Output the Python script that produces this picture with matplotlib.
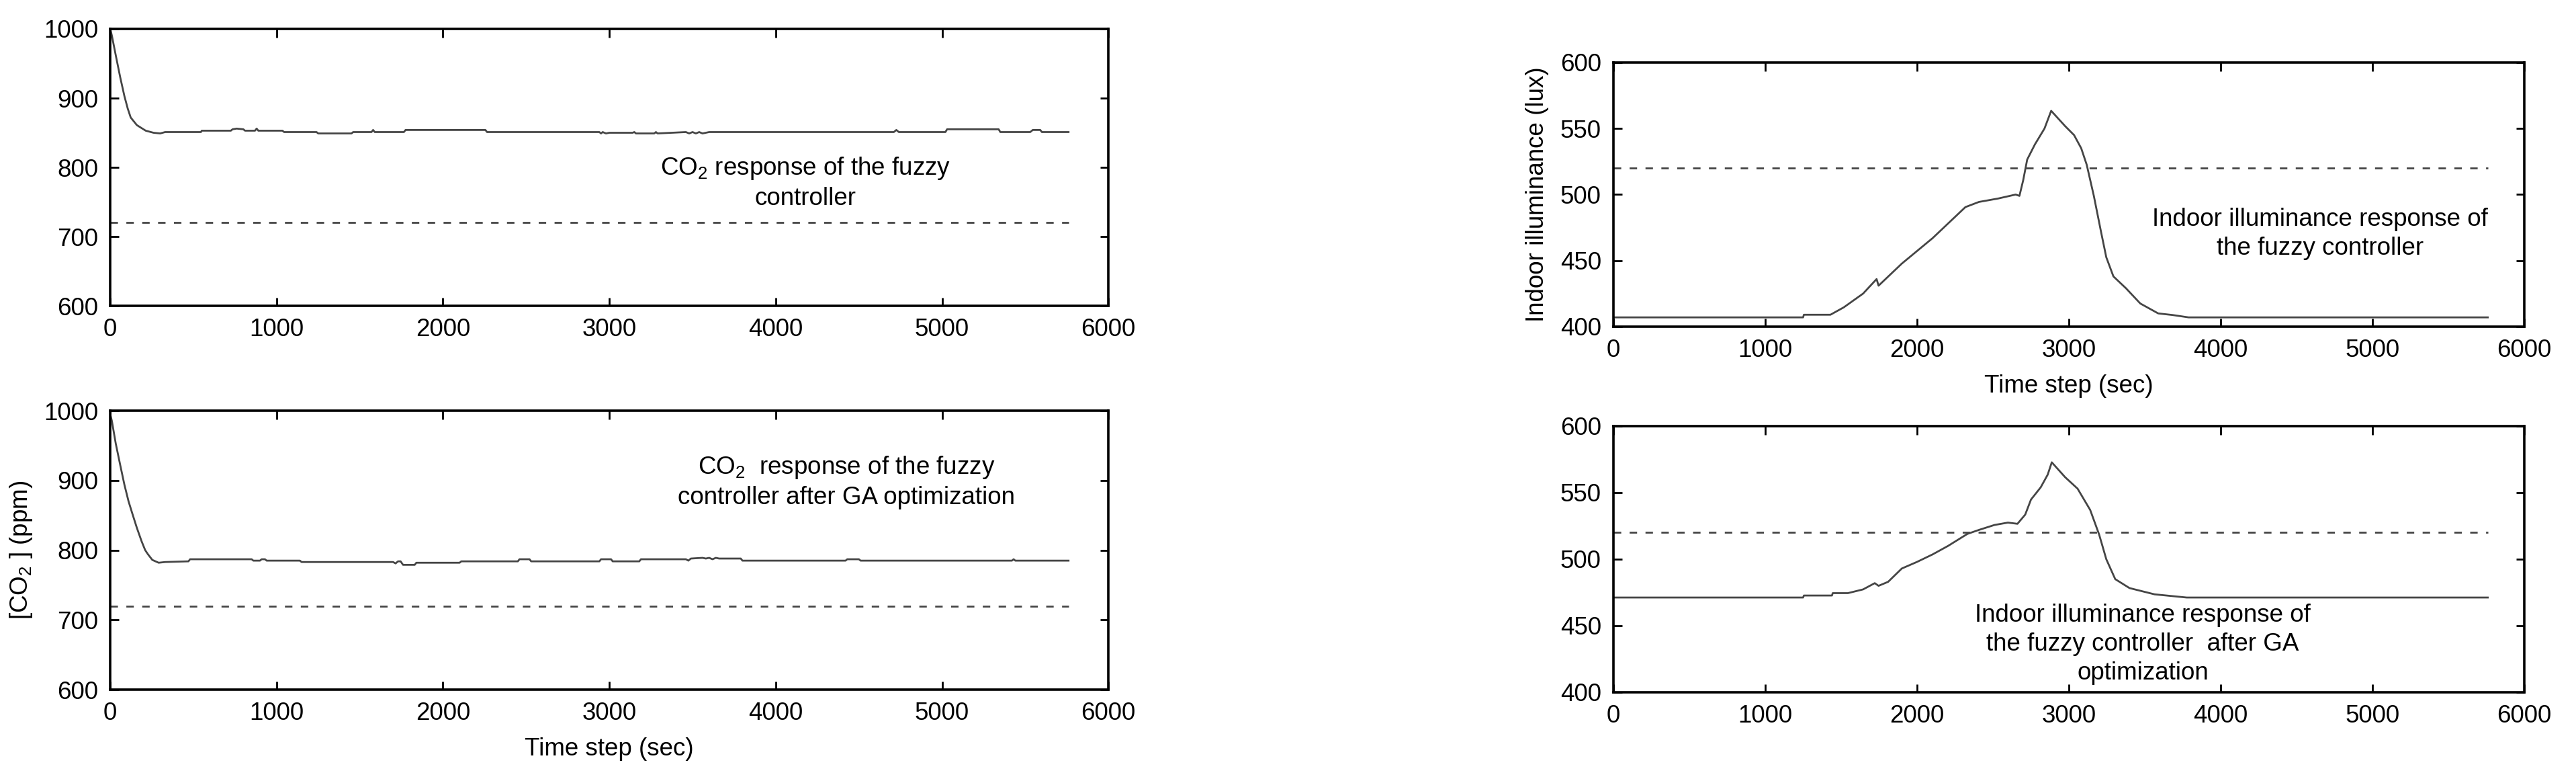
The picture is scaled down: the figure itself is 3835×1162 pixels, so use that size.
import numpy as np
import matplotlib
matplotlib.use('Agg')
import matplotlib.pyplot as plt

plt.rcParams['font.family'] = ['Liberation Sans', 'DejaVu Sans']
plt.rcParams['mathtext.default'] = 'regular'
plt.rcParams['lines.scale_dashes'] = False

# (time step [s], value)
co2_fuzzy = np.array([
    [0, 1000], [10, 990], [33, 962], [60, 930], [85, 903], [105, 885], [123, 872],
    [160, 861], [213, 853], [260, 850], [300, 849], [330, 851], [545, 851], [550, 853],
    [725, 853], [735, 855], [760, 856], [800, 855], [810, 853], [870, 853], [880, 856],
    [890, 853], [1035, 853], [1045, 851], [1240, 851], [1250, 849], [1450, 849],
    [1460, 851], [1570, 851], [1580, 854], [1590, 851], [1765, 851], [1775, 854],
    [2255, 854], [2265, 851], [2940, 851], [2950, 849], [2960, 851], [2980, 849],
    [3000, 850], [3140, 850], [3150, 851], [3160, 849], [3270, 849], [3280, 851],
    [3290, 849], [3460, 851], [3480, 849], [3500, 851], [3520, 849], [3540, 851],
    [3560, 849], [3600, 851], [4710, 851], [4725, 854], [4740, 851], [5020, 851],
    [5030, 855], [5340, 855], [5350, 851], [5530, 851], [5545, 854], [5590, 854],
    [5600, 851], [5760, 851],
])

co2_ga = np.array([
    [0, 995], [10, 985], [33, 953], [60, 922], [85, 894], [110, 870], [136, 850],
    [160, 832], [188, 813], [210, 800], [227, 794], [253, 786], [291, 782], [330, 783],
    [470, 784], [480, 787], [850, 787], [860, 785], [900, 785], [910, 787], [930, 787],
    [940, 785], [1140, 785], [1150, 783], [1700, 783], [1715, 781], [1730, 784],
    [1745, 784], [1760, 779], [1830, 779], [1840, 782], [1855, 782], [2100, 782],
    [2110, 784], [2450, 784], [2460, 787], [2520, 787], [2530, 784], [2940, 784],
    [2950, 787], [3010, 787], [3020, 784], [3180, 784], [3190, 787], [3460, 787],
    [3475, 785], [3490, 788], [3560, 789], [3580, 788], [3600, 789], [3620, 787],
    [3640, 789], [3660, 788], [3790, 788], [3800, 785], [4420, 785], [4430, 787],
    [4500, 787], [4510, 785], [5420, 785], [5430, 787], [5440, 785], [5760, 785],
])

lux_fuzzy = np.array([
    [0, 407], [1250, 407], [1255, 409], [1430, 409], [1518, 414.6], [1645, 425],
    [1734, 436], [1747, 431], [1900, 447.7], [2103, 467], [2319, 490.5], [2408, 494.4],
    [2535, 497], [2650, 500], [2675, 499], [2700, 511], [2726, 526.5], [2777, 538],
    [2840, 550], [2884, 563.4], [2976, 551.8], [3035, 545], [3082, 535], [3118, 522.6],
    [3165, 499], [3212, 472], [3247, 452.5], [3294, 438], [3377, 429], [3471, 417.5],
    [3589, 410], [3683, 408.8], [3789, 407], [5760, 407],
])

lux_ga = np.array([
    [0, 471.2], [1250, 471.2], [1255, 472.7], [1440, 472.7], [1445, 474.5],
    [1545, 474.5], [1645, 477.3], [1722, 482], [1747, 480], [1810, 483], [1900, 493],
    [2001, 498], [2103, 503.6], [2205, 510], [2332, 519], [2408, 522], [2510, 525.7],
    [2599, 527.5], [2662, 526.6], [2713, 533.5], [2751, 544.8], [2815, 554],
    [2861, 563.5], [2888, 572.8], [2976, 561.6], [3058, 553], [3141, 537],
    [3200, 518.5], [3247, 500], [3306, 485], [3400, 478.3], [3565, 473.6],
    [3777, 471.2], [5760, 471.2],
])

co2_setpoint = 720
lux_setpoint = 520
t_end = 5760

fig = plt.figure(figsize=(38.35, 11.62), dpi=100)
ax_lt = fig.add_axes([0.0428, 0.6084, 0.3875, 0.3546])
ax_lb = fig.add_axes([0.0428, 0.1170, 0.3875, 0.3571])
ax_rt = fig.add_axes([0.6263, 0.5818, 0.3536, 0.3382])
ax_rb = fig.add_axes([0.6263, 0.1136, 0.3536, 0.3408])

line_c = '#454545'
fs = 26.5

panels = [
    (ax_lt, co2_fuzzy, co2_setpoint, (600, 1000), 100),
    (ax_lb, co2_ga, co2_setpoint, (600, 1000), 100),
    (ax_rt, lux_fuzzy, lux_setpoint, (400, 600), 50),
    (ax_rb, lux_ga, lux_setpoint, (400, 600), 50),
]
for ax, data, sp, ylim, ystep in panels:
    ax.plot(data[:, 0], data[:, 1], color=line_c, lw=2.0)
    ax.plot([0, t_end], [sp, sp], color=line_c, lw=2.0, dashes=(8, 9))
    ax.set_xlim(0, 6000)
    ax.set_ylim(*ylim)
    ax.set_xticks(np.arange(0, 6001, 1000))
    ax.set_yticks(np.arange(ylim[0], ylim[1] + 1, ystep))
    ax.tick_params(direction='in', length=9, width=2.0, top=True, right=True,
                   labelsize=fs, pad=13)
    for s in ax.spines.values():
        s.set_linewidth(2.6)

ax_lb.set_ylabel('[CO$_2$ ] (ppm)', fontsize=fs, labelpad=10)
ax_lb.set_xlabel('Time step (sec)', fontsize=fs, labelpad=13)
ax_rt.set_ylabel('Indoor illuminance (lux)', fontsize=fs, labelpad=12)
ax_rt.set_xlabel('Time step (sec)', fontsize=fs, labelpad=13)

ax_lt.text(4180, 778, 'CO$_2$ response of the fuzzy\ncontroller',
           ha='center', va='center', fontsize=fs, linespacing=1.3)
ax_lb.text(4425, 898, 'CO$_2$  response of the fuzzy\ncontroller after GA optimization',
           ha='center', va='center', fontsize=fs, linespacing=1.3)
ax_rt.text(4655, 470, 'Indoor illuminance response of\nthe fuzzy controller',
           ha='center', va='center', fontsize=fs, linespacing=1.3)
ax_rb.text(3487, 436, 'Indoor illuminance response of\nthe fuzzy controller  after GA\noptimization',
           ha='center', va='center', fontsize=fs, linespacing=1.3)

fig.savefig('out.png', dpi=100)
